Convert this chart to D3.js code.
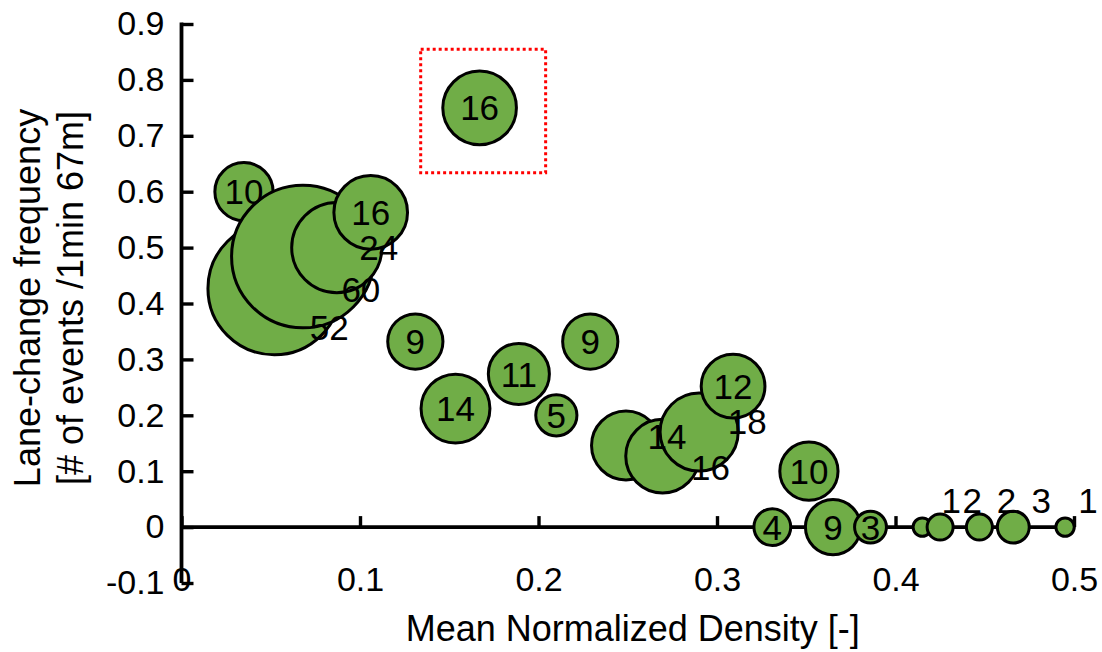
<!DOCTYPE html>
<html>
<head>
<meta charset="utf-8">
<script src="https://cdn.jsdelivr.net/npm/d3@7"></script>
<style>
  body { margin: 0; background: #fff; }
  text { font-family: Arial, "Liberation Sans", sans-serif; fill: #000; }
</style>
</head>
<body>
<svg id="chart" width="1102" height="652"></svg>
<script>
// Mean normalized density of each observation group (x)
const density = [0.035, 0.052, 0.068, 0.087, 0.106, 0.131, 0.1535, 0.167, 0.189, 0.210,
                 0.229, 0.249, 0.2695, 0.290, 0.309, 0.331, 0.3515, 0.365, 0.386,
                 0.415, 0.425, 0.447, 0.466, 0.495];
// Lane-change frequency [# of events / 1 min 67 m] (y)
const laneChangeFreq = [0.600, 0.427, 0.484, 0.500, 0.563, 0.332, 0.212, 0.750, 0.274, 0.200,
                        0.332, 0.146, 0.127, 0.170, 0.252, 0.000, 0.100, 0.000, 0.000,
                        0.000, 0.000, 0.000, 0.000, 0.000];
// Number of events in each group (bubble area and label)
const eventCount = [10, 52, 60, 24, 16, 9, 14, 16, 11, 5,
                    9, 14, 16, 18, 12, 4, 10, 9, 3,
                    1, 2, 2, 3, 1];

const xTicks = [0, 0.1, 0.2, 0.3, 0.4, 0.5];
const yTicks = [-0.1, 0, 0.1, 0.2, 0.3, 0.4, 0.5, 0.6, 0.7, 0.8, 0.9];
const xTickLabels = ["0", "0.1", "0.2", "0.3", "0.4", "0.5"];
const yTickLabels = ["-0.1", "0", "0.1", "0.2", "0.3", "0.4", "0.5", "0.6", "0.7", "0.8", "0.9"];

// Region outlined with a red dotted frame (data units)
const highlightX = [0.134, 0.204];
const highlightY = [0.634, 0.855];

// Labels that sit beside their bubble instead of on it (pixel shift by point index)
const labelShift = {
  1: [55, 39], 2: [58, 33], 3: [42, 0],
  11: [41, -9], 12: [48, 11], 13: [48, -11],
  19: [29, -27], 20: [32, -27], 21: [27, -27], 22: [28, -27], 23: [23, -27]
};

const svg = d3.select("#chart");

const x = d3.scaleLinear().domain([0, 0.5]).range([181.5, 1074]);
const y = d3.scaleLinear().domain([-0.1, 0.9]).range([583, 24]);
const r = d3.scaleSqrt().domain([0, 60]).range([0, 71.3]);

// Y axis: ticks pointing into the plot, labels on the left
const yAxis = d3.axisLeft(y)
  .tickValues(yTicks)
  .tickFormat((d, i) => yTickLabels[i])
  .tickSizeInner(-12)
  .tickSizeOuter(0)
  .tickPadding(17);

// X axis: ticks pointing up, labels below the plot
const xAxis = d3.axisBottom(x)
  .tickValues(xTicks)
  .tickFormat((d, i) => xTickLabels[i])
  .tickSizeInner(-11)
  .tickSizeOuter(0)
  .tickPadding(40);

const points = density.map((d, i) => ({
  x: d, y: laneChangeFreq[i], n: eventCount[i], i
}));

const gx = svg.append("g")
  .attr("transform", `translate(0,${y(0)})`)
  .call(xAxis);
gx.select(".domain").remove();
gx.selectAll(".tick line").style("stroke", "#000").style("stroke-width", "3.4px");
gx.selectAll(".tick text").attr("font-size", 34).attr("font-family", "Arial, 'Liberation Sans', sans-serif");

const gy = svg.append("g")
  .attr("transform", `translate(${x(0)},0)`)
  .call(yAxis);
gy.select(".domain").remove();
gy.selectAll(".tick line").style("stroke", "#000").style("stroke-width", "3.4px");
gy.selectAll(".tick text").attr("font-size", 34).attr("font-family", "Arial, 'Liberation Sans', sans-serif");

// Axis lines: vertical at x = 0, horizontal at y = 0
svg.append("line")
  .attr("x1", x(0)).attr("x2", x(0))
  .attr("y1", y(-0.1)).attr("y2", y(0.9) - 1.5)
  .style("stroke", "#000").style("stroke-width", "3.8px");
svg.append("line")
  .attr("x1", x(0)).attr("x2", x(0.5))
  .attr("y1", y(0)).attr("y2", y(0))
  .style("stroke", "#000").style("stroke-width", "3.6px");

// Bubbles in order of density, drawn over the axis line
const g = svg.append("g");
points.forEach(p => {
  g.append("circle")
    .attr("cx", x(p.x))
    .attr("cy", y(p.y))
    .attr("r", r(p.n))
    .attr("fill", "#70ad47")
    .attr("stroke", "#000")
    .attr("stroke-width", 3);
});

// Bubble labels
points.forEach(p => {
  const s = labelShift[p.i] || [0, 0];
  g.append("text")
    .attr("x", x(p.x) + s[0])
    .attr("y", y(p.y) + s[1])
    .attr("dy", "0.36em")
    .attr("text-anchor", "middle")
    .attr("font-size", 35)
    .text(p.n);
});

// Highlight frame
svg.append("rect")
  .attr("x", x(highlightX[0]))
  .attr("y", y(highlightY[1]))
  .attr("width", x(highlightX[1]) - x(highlightX[0]))
  .attr("height", y(highlightY[0]) - y(highlightY[1]))
  .attr("fill", "none")
  .attr("stroke", "#ff0000")
  .attr("stroke-width", 3)
  .attr("stroke-dasharray", "3,3");

// Axis titles
svg.append("text")
  .attr("x", (x(0) + x(0.5)) / 2 + 5)
  .attr("y", 641)
  .attr("text-anchor", "middle")
  .attr("font-size", 36)
  .text("Mean Normalized Density [-]");

const yTitle = svg.append("text")
  .attr("transform", "translate(0,298) rotate(-90)")
  .attr("text-anchor", "middle")
  .attr("font-size", 36);
yTitle.append("tspan").attr("x", 0).attr("y", 40).text("Lane-change frequency");
yTitle.append("tspan").attr("x", 0).attr("y", 83).text("[# of events /1min 67m]");
</script>
</body>
</html>
